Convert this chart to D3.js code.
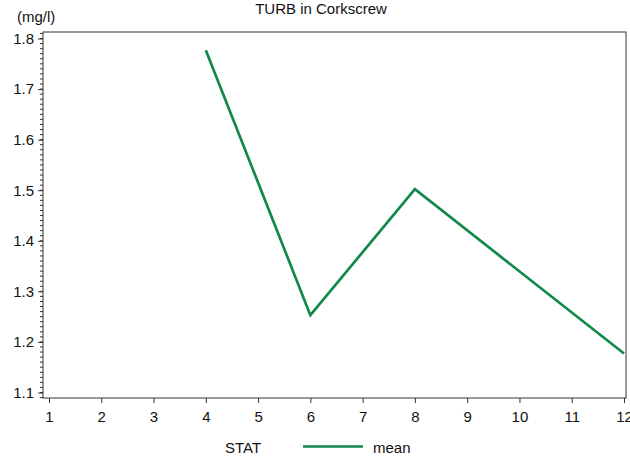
<!DOCTYPE html>
<html><head><meta charset="utf-8">
<script src="https://cdn.jsdelivr.net/npm/d3@7"></script>
<style>body{margin:0;background:#fff}svg{display:block;font-family:"Liberation Sans",Arial,sans-serif}</style>
</head><body>
<svg id="c" width="630" height="456"></svg>
<script>
const months = [4, 6, 8, 12];
const meanValues = [1.777, 1.253, 1.502, 1.177];
const xTicks = [1,2,3,4,5,6,7,8,9,10,11,12];
const yTicks = [1.1,1.2,1.3,1.4,1.5,1.6,1.7,1.8];
const title = "TURB in Corkscrew";
const unitLabel = "(mg/l)";
const legendTitle = "STAT";
const seriesName = "mean";
const color = "#10894a";

const svg = d3.select("#c");
const L = 43, R = 626, T = 32, B = 398;
const x = d3.scaleLinear().domain([1, 12]).range([49, 624]);
const y = d3.scaleLinear().domain([1.1, 1.8]).range([392.5, 38.5]);
const FS = 15;

svg.append("rect").attr("x", L).attr("y", T).attr("width", R - L).attr("height", B - T)
  .attr("fill", "none").attr("stroke", "#333").attr("stroke-width", 1);

// y axis
const minor = d3.range(1.09, 1.815, 0.01).map(v => +v.toFixed(2)).filter(v => y(v) <= B && y(v) >= T);
const gy = svg.append("g").attr("transform", `translate(${L},0)`);
gy.selectAll("line.mn").data(minor).join("line").attr("class","mn")
  .attr("x1", -3).attr("x2", 0).attr("y1", d => y(d)).attr("y2", d => y(d)).attr("stroke", "#333");
gy.call(d3.axisLeft(y).tickValues(yTicks).tickFormat(d3.format(".1f")).tickSize(5).tickSizeOuter(0))
  .call(g => g.select(".domain").remove())
  .call(g => g.selectAll(".tick line").attr("stroke", "#333"))
  .call(g => g.selectAll(".tick text").attr("font-size", FS).attr("fill", "#111").attr("x", -9).attr("font-family", "Liberation Sans, Arial, sans-serif"));

// x axis
svg.append("g").attr("transform", `translate(0,${B})`)
  .call(d3.axisBottom(x).tickValues(xTicks).tickFormat(d3.format("d")).tickSize(5).tickSizeOuter(0))
  .call(g => g.select(".domain").remove())
  .call(g => g.selectAll(".tick line").attr("stroke", "#333"))
  .call(g => g.selectAll(".tick text").attr("font-size", FS).attr("fill", "#111").attr("y", 13).attr("font-family", "Liberation Sans, Arial, sans-serif"));

// line
const data = months.map((m, i) => ({m, v: meanValues[i]}));
svg.append("path").datum(data)
  .attr("d", d3.line().x(d => x(d.m)).y(d => y(d.v)))
  .attr("fill", "none").attr("stroke", color).attr("stroke-width", 2.7).attr("stroke-linejoin", "miter");

svg.append("text").attr("x", 321).attr("y", 14).attr("text-anchor", "middle")
  .attr("font-size", FS).attr("fill", "#111").text(title);
svg.append("text").attr("x", 17).attr("y", 22).attr("font-size", FS).attr("fill", "#111").text(unitLabel);

// legend
svg.append("text").attr("x", 225).attr("y", 453).attr("font-size", FS).attr("fill", "#111").text(legendTitle);
svg.append("line").attr("x1", 303).attr("x2", 363).attr("y1", 446.5).attr("y2", 446.5)
  .attr("stroke", color).attr("stroke-width", 2.7);
svg.append("text").attr("x", 373).attr("y", 453).attr("font-size", FS).attr("fill", "#111").text(seriesName);
</script>
</body></html>
